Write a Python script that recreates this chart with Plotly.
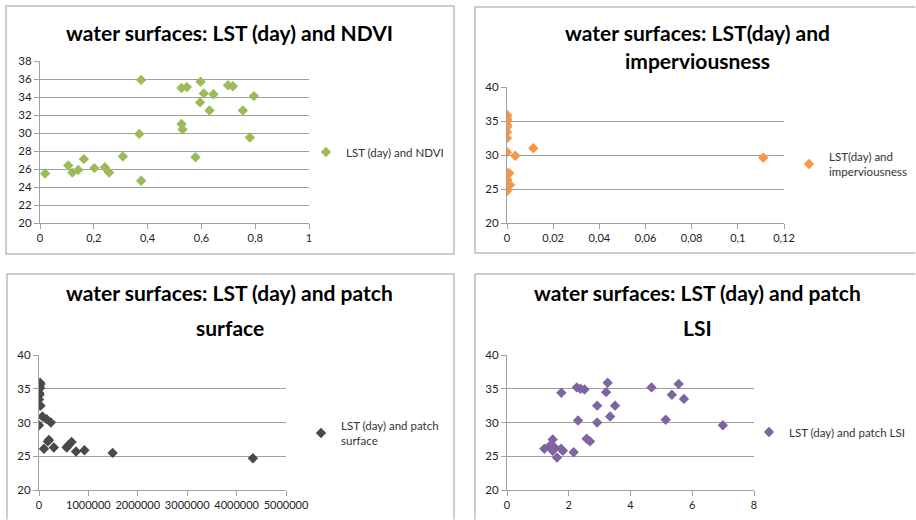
import plotly.graph_objects as go

W, H = 916, 520

# ---- data ----
ndvi = [0.019, 0.105, 0.12, 0.142, 0.163, 0.202, 0.241, 0.257, 0.308, 0.369, 0.376, 0.376,
        0.526, 0.546, 0.526, 0.530, 0.578, 0.597, 0.595, 0.609, 0.630, 0.645, 0.699, 0.717,
        0.754, 0.780, 0.795]
lst_ndvi = [25.5, 26.4, 25.6, 25.9, 27.1, 26.1, 26.2, 25.6, 27.4, 29.9, 35.9, 24.7,
            35.0, 35.1, 31.0, 30.4, 27.3, 35.7, 33.4, 34.4, 32.5, 34.3, 35.3, 35.2,
            32.5, 29.5, 34.1]

imperv = [0, 0, 0, 0, 0, 0, 0, 0, 0, 0, 0, 0, 0, 0, 0, 0, 0, 0, 0, 0, 0,
          0.001, 0.0013, 0.0036, 0.0114, 0.111]
lst_imperv = [35.9, 35.7, 35.3, 35.2, 35.1, 35.0, 34.4, 34.3, 34.1, 33.4, 32.5, 30.4,
              27.4, 27.1, 26.4, 26.2, 26.1, 25.9, 25.6, 25.5, 24.7,
              27.3, 25.6, 29.9, 31.0, 29.6]

patch = [20000, 30000, 10000, 0, 20000, 0, 0, 0, 10000, 0, 20000, 30000, 0, 70000,
         155000, 240000, 100000, 200000, 180000, 300000, 560000, 590000, 660000,
         750000, 920000, 1490000, 4330000]
lst_patch = [35.9, 35.7, 35.3, 35.2, 35.1, 35.0, 34.4, 34.3, 34.1, 33.4, 32.5, 32.5, 29.6,
             30.9, 30.5, 30.0, 26.1, 27.4, 27.2, 26.3, 26.3, 26.6, 27.1, 25.7, 25.9, 25.5, 24.7]

lsi = [1.21, 1.37, 1.48, 1.54, 1.48, 1.62, 1.75, 1.81, 1.76, 2.16, 2.26, 2.38, 2.51, 2.30,
       2.58, 2.69, 2.92, 2.92, 3.21, 3.26, 3.34, 3.50, 4.68, 5.14, 5.34, 5.56, 5.73, 6.99]
lst_lsi = [26.1, 26.5, 27.5, 26.3, 25.8, 24.8, 26.1, 25.8, 34.4, 25.6, 35.2, 35.0, 34.9, 30.3,
           27.6, 27.2, 32.5, 30.0, 34.5, 35.9, 30.9, 32.5, 35.2, 30.4, 34.1, 35.7, 33.5, 29.6]

titles = [
    ["water surfaces: LST (day) and NDVI"],
    ["water surfaces: LST(day) and", "imperviousness"],
    ["water surfaces: LST (day) and patch", "surface"],
    ["water surfaces: LST (day) and patch", "LSI"],
]
series_names = ["LST (day) and NDVI", "LST(day) and<br>imperviousness",
                "LST (day) and patch<br>surface", "LST (day) and patch LSI"]
colors = ["#9BBB59", "#F79646", "#4A4A4A", "#8064A2"]

# ---- layout geometry (pixels) ----
def fx(p):
    return p / W

def fy(p):
    return 1 - p / H

plots = [  # x0, x1, ytop, ybottom
    (40, 309, 61, 223),
    (507, 784, 87, 223),
    (39, 286, 355, 490),
    (507, 754, 355, 490),
]
xr = [(0, 1, 0.2), (0, 0.12, 0.02), (0, 5000000, 1000000), (0, 8, 2)]
yr = [(20, 38, 2), (20, 40, 5), (20, 40, 5), (20, 40, 5)]
title_pos = [
    (230, [32]),
    (697, [32, 60]),
    (230, [292, 327]),
    (697, [292, 327]),
]
legend_pos = [(306, 152), (789, 164), (301, 433), (749, 432)]
border_paths = [
    "M 6 6 L 454 6 L 454 254 L 6 254 Z",
    "M 915.5 7 L 475 7 L 475 253 L 915.5 253",
    "M 7 519.5 L 7 274 L 454 274 L 454 519.5",
    "M 915.5 274 L 475 274 L 475 519.5",
]

xs = [ndvi, imperv, patch, lsi]
ys = [lst_ndvi, lst_imperv, lst_patch, lst_lsi]

fig = go.Figure()
GRID = "#A0A0A0"
FONT = "Lato"

layout = dict(
    template="none",
    width=W, height=H, margin=dict(l=0, r=0, t=0, b=0, pad=0, autoexpand=False),
    paper_bgcolor="white", plot_bgcolor="white",
    separators=", ",
    font=dict(family=FONT, size=11, color="#222222"),
    shapes=[], annotations=[],
)


def to_paper_path(p):
    out = []
    toks = p.split()
    k = 0
    while k < len(toks):
        t = toks[k]
        if t in ("M", "L"):
            x = float(toks[k + 1]) / W
            y = 1 - float(toks[k + 2]) / H
            out.append(f"{t} {x:.6f},{y:.6f}")
            k += 3
        else:
            out.append(t)
            k += 1
    return " ".join(out)


for i in range(4):
    n = "" if i == 0 else str(i + 1)
    leg = "legend" if i == 0 else "legend" + str(i + 1)
    fig.add_trace(go.Scatter(
        x=xs[i], y=ys[i], mode="markers", name=series_names[i],
        marker=dict(symbol="diamond", size=8, color=colors[i], line=dict(width=0)),
        xaxis="x" + n, yaxis="y" + n, legend=leg, showlegend=True,
    ))
    x0, x1, yt, yb = plots[i]
    xa = dict(
        domain=[fx(x0), fx(x1)], range=[xr[i][0], xr[i][1]], dtick=xr[i][2], tick0=0,
        anchor="y" + n, showgrid=False, zeroline=False, showline=True, linecolor=GRID,
        linewidth=1, ticks="outside", ticklen=5, tickcolor=GRID, tickangle=0,
        automargin=False, tickfont=dict(family=FONT, size=11, color="#222222"),
        fixedrange=True,
    )
    if i == 2:
        xa["tickformat"] = "d"
    ya = dict(
        domain=[fy(yb), fy(yt)], range=[yr[i][0], yr[i][1]], dtick=yr[i][2], tick0=0,
        anchor="x" + n, showgrid=True, gridcolor=GRID, gridwidth=1, zeroline=False,
        showline=True, linecolor=GRID, linewidth=1, ticks="outside", ticklen=5,
        tickcolor=GRID, automargin=False,
        tickfont=dict(family=FONT, size=11.5, color="#222222"), fixedrange=True,
    )
    layout["xaxis" + n] = xa
    layout["yaxis" + n] = ya

    lx, ly = legend_pos[i]
    layout[leg] = dict(
        x=fx(lx), y=fy(ly), xanchor="left", yanchor="middle", xref="paper", yref="paper",
        bgcolor="rgba(0,0,0,0)", borderwidth=0, itemwidth=30,
        font=dict(family=FONT, size=11.5, color="#333333"),
    )

    layout["shapes"].append(dict(
        type="path", xref="paper", yref="paper", path=to_paper_path(border_paths[i]),
        line=dict(color="#BDBDBD", width=1.5), layer="below",
    ))

    cx, lines_y = title_pos[i]
    for t, ty in zip(titles[i], lines_y):
        layout["annotations"].append(dict(
            text="<b>" + t + "</b>", x=fx(cx), y=fy(ty), xref="paper", yref="paper",
            xanchor="center", yanchor="middle", showarrow=False,
            font=dict(family=FONT, size=21, color="#000000"),
        ))

fig.update_layout(**layout)
fig.write_html(
    "out.html",
    config={"displayModeBar": False},
    post_script="document.body.style.margin='0';document.body.style.overflow='hidden';",
)
